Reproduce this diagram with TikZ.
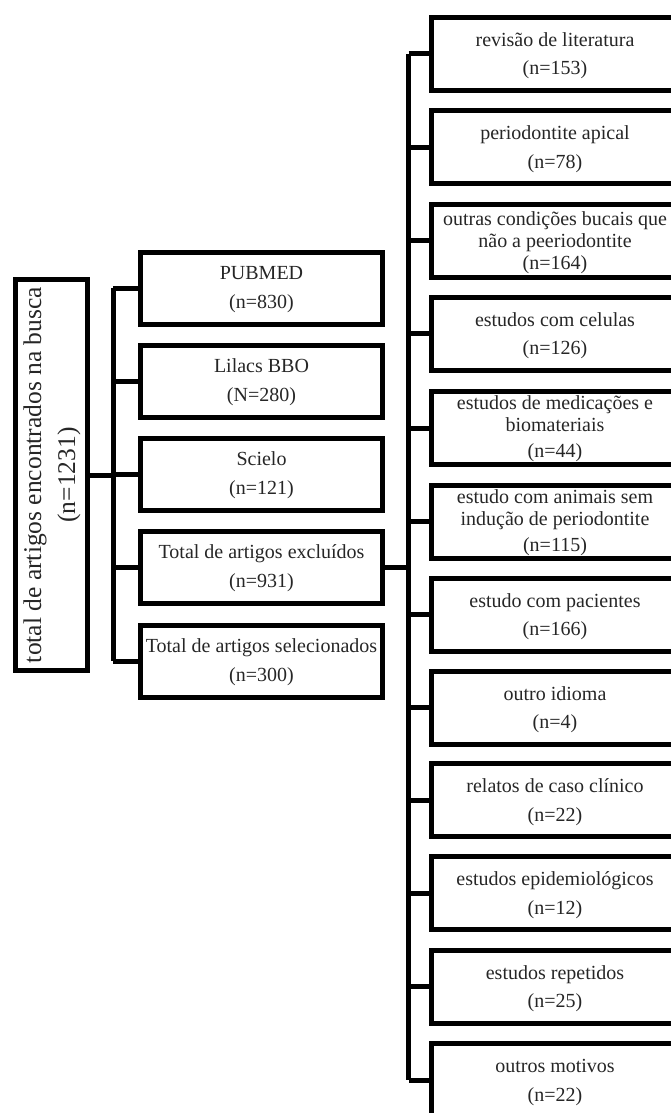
\documentclass[tikz,border=0pt]{standalone}
\usepackage{fontspec}
\usepackage{graphicx}
\setmainfont{Liberation Serif}
\definecolor{txt}{HTML}{262626}
\begin{document}
\begin{tikzpicture}[x=1pt,y=-1pt,
  box/.style={draw=black, line width=5pt, rectangle, inner sep=0pt, align=center,
    text=txt},
  midbox/.style={box, minimum width=242pt, minimum height=72pt,
    font=\fontsize{20}{29}\selectfont, text height=40pt, text depth=0pt},
  rbox/.style={box, minimum width=247pt, minimum height=73pt,
    font=\fontsize{20}{28.5}\selectfont, text height=42pt, text depth=0pt},
  tight/.style={font=\fontsize{20}{22}\selectfont, text height=58pt, text depth=0pt},
  lnk/.style={draw=black, line width=5pt},
]
\useasboundingbox (0,0) rectangle (670,1113);

% left big box
\node[box, minimum width=72.5pt, minimum height=391pt] (big) at (51.25,475)
  {\rotatebox{90}{\fontsize{25.5}{34}\selectfont\setlength{\tabcolsep}{0pt}\begin{tabular}{c}total de artigos encontrados na busca\\(n=1231)\end{tabular}}};

% middle boxes
\node[midbox] (pub) at (261.5,288) {PUBMED\\(n=830)};
\node[midbox] (lil) at (261.5,381.3) {Lilacs BBO\\(N=280)};
\node[midbox] (sci) at (261.5,474.6) {Scielo\\(n=121)};
\node[midbox] (exc) at (261.5,567.9) {Total de artigos excluídos\\(n=931)};
\node[midbox] (sel) at (261.5,661.2) {Total de artigos selecionados\\(n=300)};

% right boxes
\node[rbox] (r1) at (555,54) {revisão de literatura\\(n=153)};
\node[rbox] (r2) at (555,147.3) {periodontite apical\\(n=78)};
\node[rbox, tight] (r3) at (555,240.5) {outras condições bucais que\\não a peeriodontite\\(n=164)};
\node[rbox] (r4) at (555,333.8) {estudos com celulas\\(n=126)};
\node[rbox, tight] (r5) at (555,428) {estudos de medicações e\\biomateriais\\[4pt](n=44)};
\node[rbox, tight, text height=60pt] (r6) at (555,521.5) {estudo com animais sem\\indução de periodontite\\[4pt](n=115)};
\node[rbox] (r7) at (555,614.5) {estudo com pacientes\\(n=166)};
\node[rbox] (r8) at (555,707.5) {outro idioma\\(n=4)};
\node[rbox] (r9) at (555,800.2) {relatos de caso clínico\\(n=22)};
\node[rbox] (r10) at (555,893.4) {estudos epidemiológicos\\(n=12)};
\node[rbox] (r11) at (555,986.7) {estudos repetidos\\(n=25)};
\node[rbox] (r12) at (555,1080) {outros motivos\\(n=22)};

% left connectors
\coordinate (jL) at (113,475);
\draw[lnk] (big.east) -- (jL);
\draw[lnk] (jL |- pub.west) -- (jL |- sel.west);
\foreach \m in {pub,lil,sci,exc,sel} \draw[lnk] (jL |- \m.west) -- (\m.west);

% right connectors
\coordinate (jR) at (408.5,567.9);
\draw[lnk] (exc.east) -- (jR);
\draw[lnk] (jR |- r1.west) -- (jR |- r12.west);
\foreach \m in {r1,r2,r3,r4,r5,r6,r7,r8,r9,r10,r11,r12} \draw[lnk] (jR |- \m.west) -- (\m.west);
\end{tikzpicture}
\end{document}
